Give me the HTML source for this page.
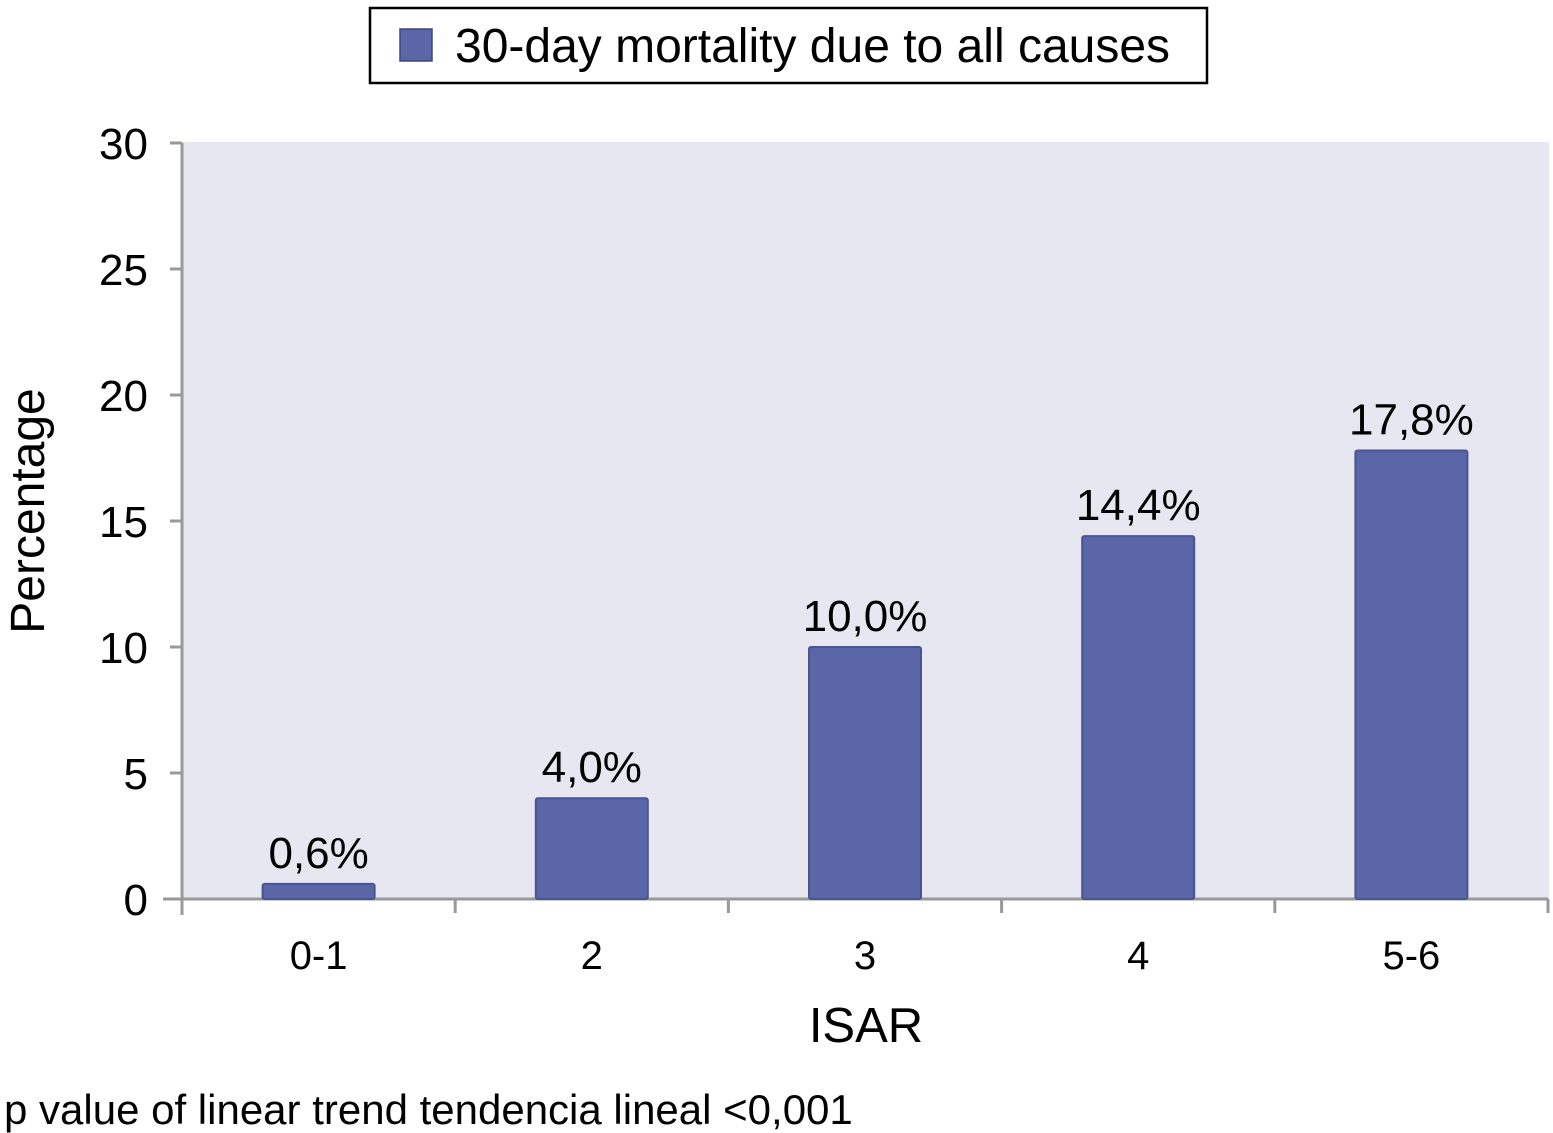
<!DOCTYPE html>
<html><head><meta charset="utf-8"><style>
body{margin:0;background:#fff;width:1553px;height:1133px;overflow:hidden}
svg{display:block;font-family:"Liberation Sans",Arial,sans-serif}
</style></head><body>
<svg id="chart" width="1553" height="1133" xmlns="http://www.w3.org/2000/svg">
<g id="legend">
<rect x="370" y="8" width="837" height="75" fill="#fff" stroke="#000" stroke-width="2.5"/>
<rect x="400" y="29" width="32" height="32" fill="#5b66a8" stroke="#3d4680" stroke-width="1.5"/>
<text x="455" y="62" font-size="48" fill="#000">30-day mortality due to all causes</text>
</g>
<rect x="182" y="142" width="1367" height="757" fill="#e6e7f0"/>
<g id="axes"></g>
<g id="bars"></g>
<text x="866" y="1042" font-size="49" text-anchor="middle">ISAR</text>
<text transform="translate(44,511) rotate(-90)" font-size="48" text-anchor="middle">Percentage</text>
<text x="4" y="1124" font-size="42">p value of linear trend tendencia lineal &lt;0,001</text>
</svg>
<script>
const categories=["0-1","2","3","4","5-6"];
const values=[0.6,4.0,10.0,14.4,17.8];
const valueLabels=["0,6%","4,0%","10,0%","14,4%","17,8%"];
const yTicks=[0,5,10,15,20,25,30];
const NS="http://www.w3.org/2000/svg";
const x0=182,x1=1548,yTop=143,yBot=899,yMax=30;
const bandW=(x1-x0)/categories.length,barW=112;
const y=v=>yBot-(v/yMax)*(yBot-yTop);
const xc=i=>x0+bandW*(i+0.5);
function mk(tag,attrs,parent){const e=document.createElementNS(NS,tag);for(const k in attrs)e.setAttribute(k,attrs[k]);parent.appendChild(e);return e;}
const axes=document.getElementById('axes'),bars=document.getElementById('bars');
let l=mk('line',{x1:x0,y1:yTop,x2:x0,y2:915,stroke:'#999','stroke-width':3},axes);


l=mk('line',{x1:163,y1:yBot,x2:x1,y2:yBot,stroke:'#999','stroke-width':3},axes);


yTicks.forEach(t=>{
  const tk=mk('line',{x1:170,y1:y(t),x2:x0,y2:y(t),stroke:'#999','stroke-width':3},axes);
  
  
  const tx=mk('text',{x:148,y:y(t)+16,'font-size':44,'text-anchor':'end'},axes);
  tx.textContent=t;
  
  
});
for(let i=1;i<=categories.length;i++){
  const tk=mk('line',{x1:x0+bandW*i,y1:yBot,x2:x0+bandW*i,y2:913,stroke:'#999','stroke-width':3},axes);
  
  
}
categories.forEach((c,i)=>{
  const tx=mk('text',{x:xc(i),y:969,'font-size':40,'text-anchor':'middle'},axes);
  tx.textContent=c;
  
  
  const r=mk('rect',{x:xc(i)-barW/2,y:y(values[i]),width:barW,height:yBot-y(values[i]),fill:'#5b66a8',stroke:'#4a5490','stroke-width':2,rx:2},bars);
  
  
  const vl=mk('text',{x:xc(i),y:y(values[i])-16,'font-size':44,'text-anchor':'middle'},bars);
  vl.textContent=valueLabels[i];
  
  
});
</script>
</body></html>
